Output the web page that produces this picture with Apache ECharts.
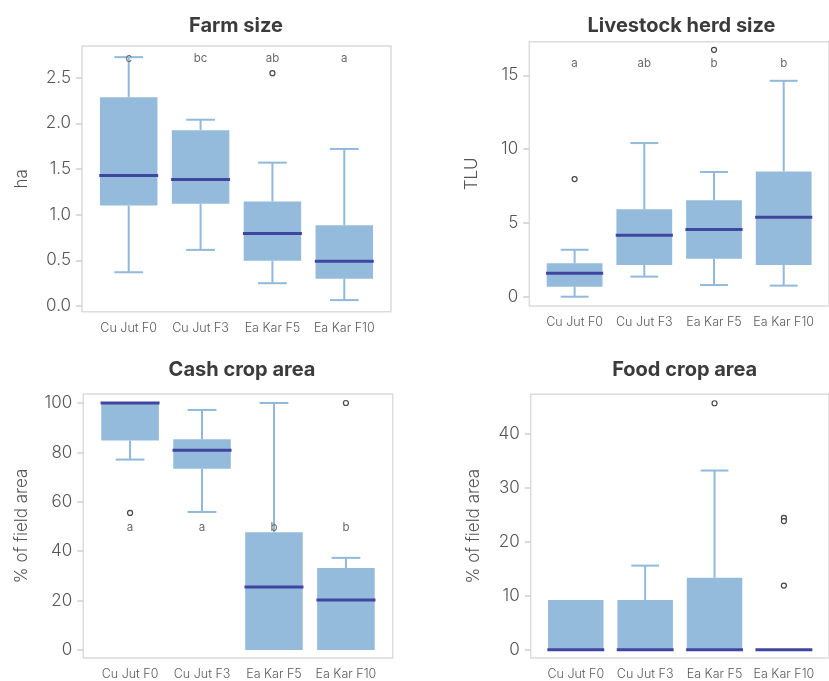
<!DOCTYPE html>
<html>
<head>
<meta charset="utf-8">
<script src="https://cdn.jsdelivr.net/npm/echarts@6/dist/echarts.min.js"></script>
<style>
  html, body { margin: 0; padding: 0; background: #fff; }
  #chart { width: 829px; height: 681px; }
</style>
</head>
<body>
<div id="chart"></div>
<script>
// Farm groups shown on every panel
const categories = ['Cu Jut F0', 'Cu Jut F3', 'Ea Kar F5', 'Ea Kar F10'];

// Box summaries per group: [lower whisker, Q1, median, Q3, upper whisker]
const farmSize = [
  [0.37, 1.10, 1.43, 2.285, 2.725],
  [0.615, 1.12, 1.385, 1.925, 2.04],
  [0.25, 0.495, 0.795, 1.145, 1.57],
  [0.065, 0.30, 0.49, 0.885, 1.72]
];
const herdSize = [
  [0.0, 0.68, 1.585, 2.26, 3.18],
  [1.36, 2.15, 4.16, 5.92, 10.41],
  [0.79, 2.57, 4.56, 6.53, 8.45],
  [0.75, 2.15, 5.38, 8.49, 14.63]
];
const cashCrop = [
  [77.1, 84.8, 100, 100, 100],
  [55.9, 73.4, 80.9, 85.3, 97.2],
  [0, 0, 25.5, 47.7, 100],
  [0, 0, 20.2, 33.2, 37.3]
];
const foodCrop = [
  [0, 0, 0, 9.2, 9.2],
  [0, 0, 0, 9.2, 15.55],
  [0, 0, 0, 13.3, 33.15],
  [0, 0, 0, 0, 0]
];

// Outliers: [group number (1-4), value]
const farmOutliers = [[3, 2.55]];
const herdOutliers = [[1, 7.97], [3, 16.73]];
const cashOutliers = [[1, 55.5], [4, 100]];
const foodOutliers = [[3, 45.6], [4, 24.4], [4, 23.8], [4, 11.85]];

// Significance letters and the height they sit at
const farmLetters = ['c', 'bc', 'ab', 'a'];
const farmLetterY = 2.715;
const herdLetters = ['a', 'ab', 'b', 'b'];
const herdLetterY = 15.8;
const cashLetters = ['a', 'a', 'b', 'b'];
const cashLetterY = 49.6;

// Y axis ticks and their labels
const farmTicks = [0, 0.5, 1, 1.5, 2, 2.5];
const farmTickLabels = ['0.0', '0.5', '1.0', '1.5', '2.0', '2.5'];
const herdTicks = [0, 5, 10, 15];
const herdTickLabels = ['0', '5', '10', '15'];
const cashTicks = [0, 20, 40, 60, 80, 100];
const cashTickLabels = ['0', '20', '40', '60', '80', '100'];
const foodTicks = [0, 10, 20, 30, 40];
const foodTickLabels = ['0', '10', '20', '30', '40'];

const FONT = 'Inter, "Noto Sans", sans-serif';
const BOX_FILL = '#94bbdc';
const WHISKER = '#90b9dc';
const MEDIAN = '#4045a0';
const TEXT = '#555555';

const panels = [
  { title: 'Farm size', titleX: 236, titleTop: 16, grid: { left: 82, top: 46, width: 309, height: 265.7 },
    yMin: -0.062, yMax: 2.847, ticks: farmTicks, tickLabels: farmTickLabels, name: 'ha', nameGap: 52,
    boxes: farmSize, outliers: farmOutliers, letters: farmLetters, letterY: farmLetterY },
  { title: 'Livestock herd size', titleX: 681.5, titleTop: 16, grid: { left: 529.3, top: 41.7, width: 309, height: 264.3 },
    yMin: -0.63, yMax: 17.28, ticks: herdTicks, tickLabels: herdTickLabels, name: 'TLU', nameGap: 48.6,
    boxes: herdSize, outliers: herdOutliers, letters: herdLetters, letterY: herdLetterY },
  { title: 'Cash crop area', titleX: 242, titleTop: 360, grid: { left: 83.3, top: 394, width: 309.4, height: 264.3 },
    yMin: -3.24, yMax: 103.65, ticks: cashTicks, tickLabels: cashTickLabels, name: '% of field area', nameGap: 53,
    boxes: cashCrop, outliers: cashOutliers, letters: cashLetters, letterY: cashLetterY },
  { title: 'Food crop area', titleX: 684.7, titleTop: 360, grid: { left: 530.7, top: 394.3, width: 309, height: 264.4 },
    yMin: -1.55, yMax: 47.26, ticks: foodTicks, tickLabels: foodTickLabels, name: '% of field area', nameGap: 48,
    boxes: foodCrop, outliers: foodOutliers, letters: null, letterY: 0 }
];

function renderBox(params, api) {
  const x = api.value(0);
  const lo = api.value(1), q1 = api.value(2), med = api.value(3), q3 = api.value(4), hi = api.value(5);
  const children = [];
  const wStyle = { stroke: WHISKER, lineWidth: 2, fill: null };
  const seg = (a, b) => ({ type: 'line', shape: { x1: a[0], y1: a[1], x2: b[0], y2: b[1] }, style: wStyle });
  if (hi > q3) {
    children.push(seg(api.coord([x, q3]), api.coord([x, hi])));
    children.push(seg(api.coord([x - 0.2, hi]), api.coord([x + 0.2, hi])));
  }
  if (lo < q1) {
    children.push(seg(api.coord([x, q1]), api.coord([x, lo])));
    children.push(seg(api.coord([x - 0.2, lo]), api.coord([x + 0.2, lo])));
  }
  const tl = api.coord([x - 0.4, q3]);
  const br = api.coord([x + 0.4, q1]);
  if (br[1] - tl[1] > 0) {
    children.push({ type: 'rect', shape: { x: tl[0], y: tl[1], width: br[0] - tl[0], height: br[1] - tl[1] },
      style: { fill: BOX_FILL } });
  }
  const m1 = api.coord([x - 0.41, med]);
  const m2 = api.coord([x + 0.41, med]);
  children.push({ type: 'line', shape: { x1: m1[0], y1: m1[1], x2: m2[0], y2: m2[1] },
    style: { stroke: MEDIAN, lineWidth: 3 } });
  return { type: 'group', children };
}

function renderLetter(params, api) {
  const p = api.coord([api.value(0), api.value(1)]);
  return { type: 'text', x: p[0], y: p[1],
    style: { text: api.value(2), fill: '#6a6a6a', fontSize: 11.5, fontFamily: FONT,
      align: 'center', verticalAlign: 'middle' } };
}

const option = { animation: false, backgroundColor: '#fff', title: [], grid: [], xAxis: [], yAxis: [], series: [] };

panels.forEach((p, i) => {
  option.title.push({ text: p.title, left: p.titleX, top: p.titleTop, textAlign: 'center', padding: 0,
    textStyle: { fontFamily: FONT, fontSize: 20, fontWeight: 'bold', color: '#3b3b3b' } });
  option.grid.push(Object.assign({ show: true, borderColor: '#dcdcdc', borderWidth: 1.5, containLabel: false }, p.grid));
  option.xAxis.push({ type: 'value', gridIndex: i, min: 0.35, max: 4.65,
    axisLine: { show: false }, axisTick: { show: false }, splitLine: { show: false },
    axisLabel: { customValues: [1, 2, 3, 4], formatter: v => categories[Math.round(v) - 1],
      fontFamily: FONT, fontSize: 12.5, fontWeight: 300, color: '#5a5a5a', margin: 10 } });
  option.yAxis.push({ type: 'value', gridIndex: i, min: p.yMin, max: p.yMax,
    name: p.name, nameLocation: 'middle', nameGap: p.nameGap,
    nameTextStyle: { fontFamily: FONT, fontSize: 17, color: TEXT, fontWeight: 300 },
    axisLine: { show: false }, splitLine: { show: false },
    axisTick: { show: true, length: 6, customValues: p.ticks, lineStyle: { color: '#cfcfcf', width: 1.5 } },
    axisLabel: { customValues: p.ticks, formatter: v => p.tickLabels[p.ticks.indexOf(v)],
      fontFamily: FONT, fontSize: 17, fontWeight: 300, color: TEXT, margin: 11 } });

  option.series.push({ type: 'custom', xAxisIndex: i, yAxisIndex: i, renderItem: renderBox,
    encode: { x: 0, y: [1, 2, 3, 4, 5] },
    data: p.boxes.map((b, k) => [k + 1].concat(b)), z: 2 });
  option.series.push({ type: 'scatter', xAxisIndex: i, yAxisIndex: i, symbol: 'circle', symbolSize: 5,
    itemStyle: { color: '#fff', borderColor: '#444', borderWidth: 1.2, opacity: 1 },
    data: p.outliers, z: 4 });
  if (p.letters) {
    option.series.push({ type: 'custom', xAxisIndex: i, yAxisIndex: i, renderItem: renderLetter,
      encode: { x: 0, y: 1 },
      data: p.letters.map((t, k) => [k + 1, p.letterY, t]), z: 5 });
  }
});

const chart = echarts.init(document.getElementById('chart'), null, { renderer: 'canvas' });
chart.setOption(option);
</script>
</body>
</html>
